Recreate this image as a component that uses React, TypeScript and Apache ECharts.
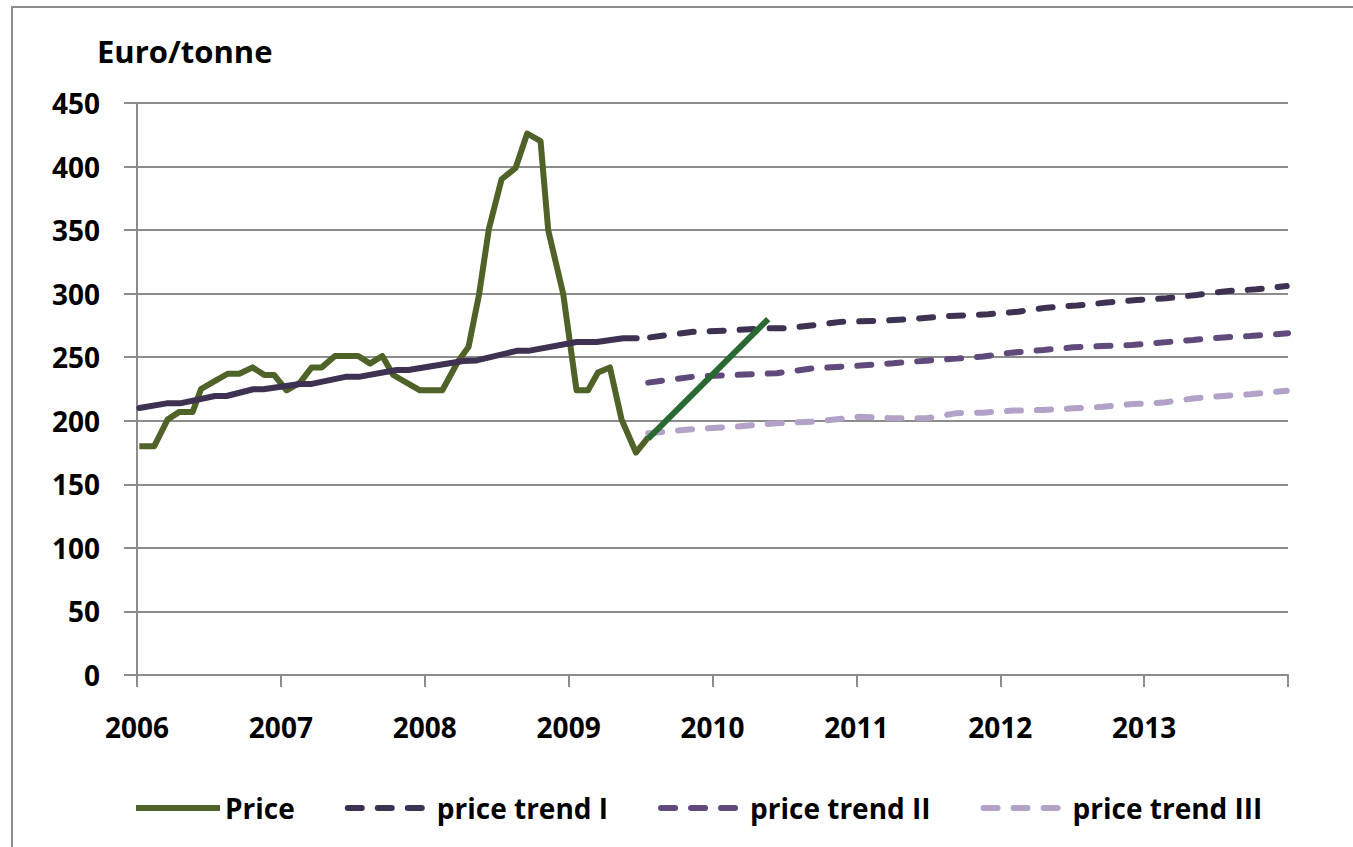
import React, { useEffect, useRef } from "react";
import * as echarts from "echarts";

// ---- Data (x = decimal year) ----
const yearTicks = [2006, 2007, 2008, 2009, 2010, 2011, 2012, 2013, 2014];

const priceX = [
  2006.016, 2006.12, 2006.213, 2006.294, 2006.387, 2006.445, 2006.537, 2006.63, 2006.711,
  2006.804, 2006.885, 2006.954, 2007.04, 2007.133, 2007.214, 2007.284, 2007.376, 2007.538,
  2007.619, 2007.705, 2007.781, 2007.967, 2008.122, 2008.233, 2008.304, 2008.377, 2008.446,
  2008.534, 2008.632, 2008.712, 2008.805, 2008.858, 2008.962, 2009.055, 2009.135, 2009.204,
  2009.287, 2009.368, 2009.468, 2009.553,
];
const priceY = [
  180, 180, 201, 207, 207, 225, 231, 237, 237,
  242, 236, 236, 224, 230, 242, 242, 251, 251,
  245, 251, 236, 224, 224, 247, 258, 299, 351,
  390, 399, 426, 420, 350, 300, 224, 224, 238,
  242, 201, 175, 187,
];

const recoveryX = [2009.553, 2010.387];
const recoveryY = [186, 280];

const trend1HistX = [
  2006.016, 2006.206, 2006.299, 2006.542, 2006.623, 2006.808, 2006.878, 2007.133, 2007.214,
  2007.457, 2007.55, 2007.805, 2007.886, 2008.268, 2008.361, 2008.639, 2008.72, 2009.056,
  2009.195, 2009.38, 2009.473,
];
const trend1HistY = [
  210, 213.7, 213.7, 219.5, 219.5, 224.8, 224.8, 229, 229,
  234.7, 234.7, 240, 240, 247, 247.5, 255, 255, 262,
  262, 265, 265,
];

const trend1X = [
  2009.566, 2009.867, 2010.099, 2010.377, 2010.516, 2010.907, 2011.141, 2011.373, 2011.651,
  2011.917, 2012.125, 2012.323, 2012.531, 2012.74, 2012.948, 2013.157, 2013.365, 2013.574,
  2013.782, 2013.991,
];
const trend1Y = [
  265.6, 270, 271, 272.7, 272.7, 278, 278.5, 280, 282.4,
  283.8, 285.8, 289, 290.7, 293, 295, 296.4, 299, 302,
  303.4, 306,
];

const trend2X = [
  2009.553, 2009.867, 2010.145, 2010.446, 2010.701, 2011.025, 2011.257, 2011.489, 2011.698,
  2011.882, 2012.08, 2012.3, 2012.508, 2012.716, 2012.914, 2013.122, 2013.342, 2013.527,
  2013.736, 2014.0,
];
const trend2Y = [
  230, 234.7, 236, 237.4, 241.3, 243.4, 245.3, 247.3, 248.9,
  250.5, 253.6, 255.7, 257.8, 258.8, 259.6, 261.5, 263.6, 265.4,
  266.7, 268.8,
];

const trend3X = [
  2009.553, 2009.867, 2010.145, 2010.446, 2010.701, 2011.025, 2011.233, 2011.489, 2011.698,
  2011.882, 2012.09, 2012.3, 2012.508, 2012.716, 2012.924, 2013.133, 2013.342, 2013.55,
  2013.736, 2013.991,
];
const trend3Y = [
  190.2, 193.5, 195.3, 198, 199.3, 203.2, 202, 202, 206,
  206.4, 208, 208.5, 209.8, 211, 213.2, 214.3, 217.6, 219.5,
  220.8, 223.7,
];

const seriesNames = ["Price", "price trend I", "price trend II", "price trend III"];
const yTitle = "Euro/tonne";

const zip = (xs: number[], ys: number[]) => xs.map((x, i) => [x, ys[i]]);

const FONT = "'Open Sans', 'Liberation Sans', sans-serif";
const GREY = "#8c8c8c";

export default function App() {
  const ref = useRef<HTMLDivElement>(null);

  useEffect(() => {
    document.body.style.margin = "0";
    const chart = echarts.init(ref.current!, null, { renderer: "svg" });
    const dash = [14, 16];
    chart.setOption({
      animation: false,
      backgroundColor: "#ffffff",
      graphic: [
        {
          type: "rect",
          shape: { x: 12, y: 7, width: 1400, height: 900 },
          style: { fill: "none", stroke: GREY, lineWidth: 2 },
          silent: true,
        },
        {
          type: "text",
          x: 97,
          y: 51,
          style: {
            text: yTitle,
            fontFamily: FONT,
            fontWeight: "bold",
            fontSize: 31,
            fill: "#000",
            verticalAlign: "middle",
            align: "left",
          },
        },
      ],
      legend: {
        data: seriesNames,
        left: 128,
        top: 789,
        itemWidth: 84,
        itemHeight: 28,
        itemGap: 50,
        lineStyle: { width: 6 },
        itemStyle: { opacity: 0 },
        textStyle: {
          fontFamily: FONT,
          fontWeight: "bold",
          fontSize: 28,
          lineHeight: 28,
          color: "#000",
        },
        selectedMode: false,
      },
      grid: { left: 137, right: 65, top: 103, bottom: 172, containLabel: false },
      xAxis: {
        type: "value",
        min: 2006,
        max: 2014,
        interval: 1,
        axisLine: { show: true, lineStyle: { color: GREY, width: 2 } },
        axisTick: { show: true, length: 12, lineStyle: { color: GREY, width: 2 } },
        splitLine: { show: false },
        axisLabel: {
          margin: 38,
          fontFamily: FONT,
          fontWeight: "bold",
          fontSize: 28,
          lineHeight: 28,
          color: "#000",
          formatter: (v: number) => (v === yearTicks[yearTicks.length - 1] ? "" : String(v)),
        },
      },
      yAxis: {
        type: "value",
        min: 0,
        max: 450,
        interval: 50,
        axisLine: { show: true, lineStyle: { color: GREY, width: 2 } },
        axisTick: { show: true, length: 13, lineStyle: { color: GREY, width: 2 } },
        splitLine: { show: true, lineStyle: { color: GREY, width: 2 } },
        axisLabel: {
          margin: 37,
          fontFamily: FONT,
          fontWeight: "bold",
          fontSize: 28,
          lineHeight: 28,
          color: "#000",
        },
      },
      series: [
        {
          name: seriesNames[0],
          type: "line",
          data: zip(priceX, priceY),
          symbol: "none",
          lineStyle: { color: "#4F6228", width: 6, join: "round" },
          itemStyle: { color: "#4F6228" },
          z: 3,
        },
        {
          name: "trend I history",
          type: "line",
          data: zip(trend1HistX, trend1HistY),
          symbol: "none",
          lineStyle: { color: "#3F3151", width: 6, cap: "round", join: "round" },
          itemStyle: { color: "#3F3151" },
          z: 4,
        },
        {
          name: seriesNames[1],
          type: "line",
          data: zip(trend1X, trend1Y),
          symbol: "none",
          lineStyle: { color: "#3F3151", width: 6, type: dash, cap: "round" },
          itemStyle: { color: "#3F3151" },
          z: 4,
        },
        {
          name: seriesNames[2],
          type: "line",
          data: zip(trend2X, trend2Y),
          symbol: "none",
          lineStyle: { color: "#604A7B", width: 6, type: dash, cap: "round" },
          itemStyle: { color: "#604A7B" },
          z: 4,
        },
        {
          name: seriesNames[3],
          type: "line",
          data: zip(trend3X, trend3Y),
          symbol: "none",
          lineStyle: { color: "#B3A2C7", width: 6, type: dash, cap: "round" },
          itemStyle: { color: "#B3A2C7" },
          z: 4,
        },
        {
          name: "recovery",
          type: "line",
          data: zip(recoveryX, recoveryY),
          symbol: "none",
          lineStyle: { color: "#2A6A32", width: 6 },
          itemStyle: { color: "#2A6A32" },
          z: 5,
        },
      ],
    });
    return () => chart.dispose();
  }, []);

  return (
    <div
      ref={ref}
      style={{ position: "fixed", left: 0, top: 0, width: 1353, height: 847 }}
    />
  );
}
